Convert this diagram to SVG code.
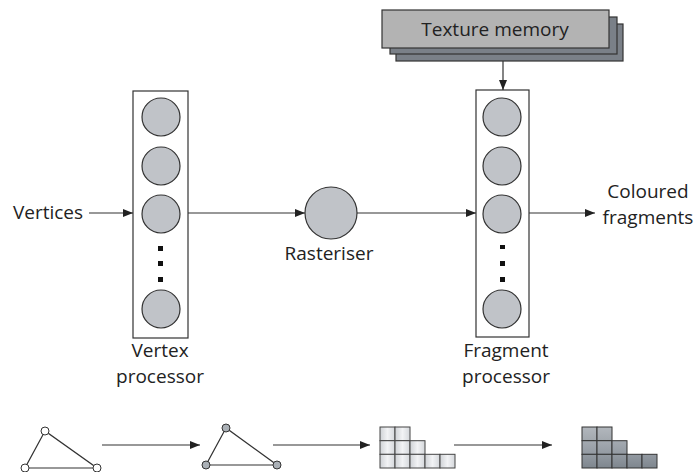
<svg xmlns="http://www.w3.org/2000/svg" width="700" height="472" viewBox="0 0 700 472">
<defs>
<marker id="ah" viewBox="0 0 10 8" refX="10" refY="4" markerWidth="10" markerHeight="8" markerUnits="userSpaceOnUse" orient="auto">
<path d="M0,0 L10,4 L0,8 Z" fill="#222"/>
</marker>
<linearGradient id="gl" x1="0" y1="0" x2="1" y2="0">
<stop offset="0" stop-color="#cfd2d6"/><stop offset="0.5" stop-color="#f2f3f5"/><stop offset="1" stop-color="#d4d7db"/>
</linearGradient>
<linearGradient id="gd1" x1="0" y1="0" x2="0" y2="1">
<stop offset="0" stop-color="#b2b7bd"/><stop offset="1" stop-color="#a2a8ae"/>
</linearGradient>
<linearGradient id="gd2" x1="0" y1="0" x2="0" y2="1">
<stop offset="0" stop-color="#a4aab1"/><stop offset="1" stop-color="#939aa2"/>
</linearGradient>
<linearGradient id="gd3" x1="0" y1="0" x2="0" y2="1">
<stop offset="0" stop-color="#939aa2"/><stop offset="1" stop-color="#7e868e"/>
</linearGradient>
</defs>
<style>
.t{font-family:"Open Sans","Liberation Sans",sans-serif;font-size:19px;fill:#222;text-anchor:middle}
.ln{stroke:#333;stroke-width:1.2;fill:none}
.box{fill:#fff;stroke:#333;stroke-width:1.2}
.c{fill:#c0c3c8;stroke:#333;stroke-width:1.2}
.dot{fill:#111}
.cl{fill:url(#gl);stroke:#444;stroke-width:1}
.d1{fill:url(#gd1);stroke:#333;stroke-width:1}
.d2{fill:url(#gd2);stroke:#333;stroke-width:1}
.d3{fill:url(#gd3);stroke:#333;stroke-width:1}
.v1{fill:#fff;stroke:#333;stroke-width:1}
.v2{fill:#aab0b6;stroke:#333;stroke-width:1}
</style>
<rect width="700" height="472" fill="#fff"/>

<g id="texture-memory">
<rect x="396" y="24" width="227" height="37" fill="#7a8088" stroke="#333" stroke-width="1.2"/>
<rect x="390" y="17" width="227" height="37" fill="#7a8088" stroke="#333" stroke-width="1.2"/>
<rect x="382" y="10" width="227" height="38" fill="#b3b3b3" stroke="#333" stroke-width="1.2"/>
<text class="t" x="495" y="36">Texture memory</text>
</g>

<g id="vertices-label">
<text class="t" x="48" y="219">Vertices</text>
</g>

<g id="vertex-processor">
<rect class="box" x="133" y="91" width="55" height="247"/>
<circle class="c" cx="161" cy="117" r="19"/>
<circle class="c" cx="161" cy="166" r="19"/>
<circle class="c" cx="161" cy="214" r="19"/>
<rect class="dot" x="158" y="246" width="5" height="5"/>
<rect class="dot" x="158" y="261" width="5" height="5"/>
<rect class="dot" x="158" y="277" width="5" height="5"/>
<circle class="c" cx="161" cy="309" r="19"/>
<text class="t" x="160" y="357">Vertex</text>
<text class="t" x="160" y="383">processor</text>
</g>

<g id="rasteriser">
<circle class="c" cx="331" cy="213" r="26"/>
<text class="t" x="329" y="260">Rasteriser</text>
</g>

<g id="fragment-processor">
<rect class="box" x="476" y="90" width="53" height="247"/>
<circle class="c" cx="502" cy="117" r="19"/>
<circle class="c" cx="502" cy="166" r="19"/>
<circle class="c" cx="502" cy="214" r="19"/>
<rect class="dot" x="500" y="245" width="5" height="4"/>
<rect class="dot" x="500" y="261" width="5" height="5"/>
<rect class="dot" x="500" y="277" width="5" height="5"/>
<circle class="c" cx="502" cy="309" r="19"/>
<text class="t" x="506" y="357">Fragment</text>
<text class="t" x="506" y="383">processor</text>
</g>

<g id="coloured-fragments">
<text class="t" x="648" y="198">Coloured</text>
<text class="t" x="648" y="224">fragments</text>
</g>

<g id="connectors">
<line class="ln" x1="503" y1="61" x2="503" y2="90" marker-end="url(#ah)"/>
<line class="ln" x1="89" y1="213" x2="133" y2="213" marker-end="url(#ah)"/>
<line class="ln" x1="188" y1="213" x2="305" y2="213" marker-end="url(#ah)"/>
<line class="ln" x1="357" y1="213" x2="476" y2="213" marker-end="url(#ah)"/>
<line class="ln" x1="529" y1="213" x2="595" y2="213" marker-end="url(#ah)"/>
<line class="ln" x1="102" y1="445" x2="200" y2="445" marker-end="url(#ah)"/>
<line class="ln" x1="273" y1="445" x2="370" y2="445" marker-end="url(#ah)"/>
<line class="ln" x1="454" y1="445" x2="552" y2="445" marker-end="url(#ah)"/>
</g>

<g id="triangle-vertices">
<path class="ln" d="M45,431 L25,468 L97,468 Z"/>
<circle class="v1" cx="45" cy="431" r="4"/>
<circle class="v1" cx="25" cy="468" r="4"/>
<circle class="v1" cx="97" cy="468" r="4"/>
</g>

<g id="triangle-processed">
<path class="ln" d="M226,428 L206,465 L277,465 Z"/>
<circle class="v2" cx="226" cy="428" r="4"/>
<circle class="v2" cx="206" cy="465" r="4"/>
<circle class="v2" cx="277" cy="465" r="4"/>
</g>

<g id="fragments-grid">
<rect class="cl" x="380" y="427" width="15" height="13.7"/>
<rect class="cl" x="395" y="427" width="15" height="13.7"/>
<rect class="cl" x="380" y="440.7" width="15" height="13.7"/>
<rect class="cl" x="395" y="440.7" width="15" height="13.7"/>
<rect class="cl" x="410" y="440.7" width="15" height="13.7"/>
<rect class="cl" x="380" y="454.3" width="15" height="13.7"/>
<rect class="cl" x="395" y="454.3" width="15" height="13.7"/>
<rect class="cl" x="410" y="454.3" width="15" height="13.7"/>
<rect class="cl" x="425" y="454.3" width="15" height="13.7"/>
<rect class="cl" x="440" y="454.3" width="15" height="13.7"/>
</g>

<g id="coloured-grid">
<rect class="d1" x="582" y="427" width="15" height="13.7"/>
<rect class="d1" x="597" y="427" width="15" height="13.7"/>
<rect class="d2" x="582" y="440.7" width="15" height="13.7"/>
<rect class="d2" x="597" y="440.7" width="15" height="13.7"/>
<rect class="d2" x="612" y="440.7" width="15" height="13.7"/>
<rect class="d3" x="582" y="454.3" width="15" height="13.7"/>
<rect class="d3" x="597" y="454.3" width="15" height="13.7"/>
<rect class="d3" x="612" y="454.3" width="15" height="13.7"/>
<rect class="d3" x="627" y="454.3" width="15" height="13.7"/>
<rect class="d3" x="642" y="454.3" width="15" height="13.7"/>
</g>
</svg>
